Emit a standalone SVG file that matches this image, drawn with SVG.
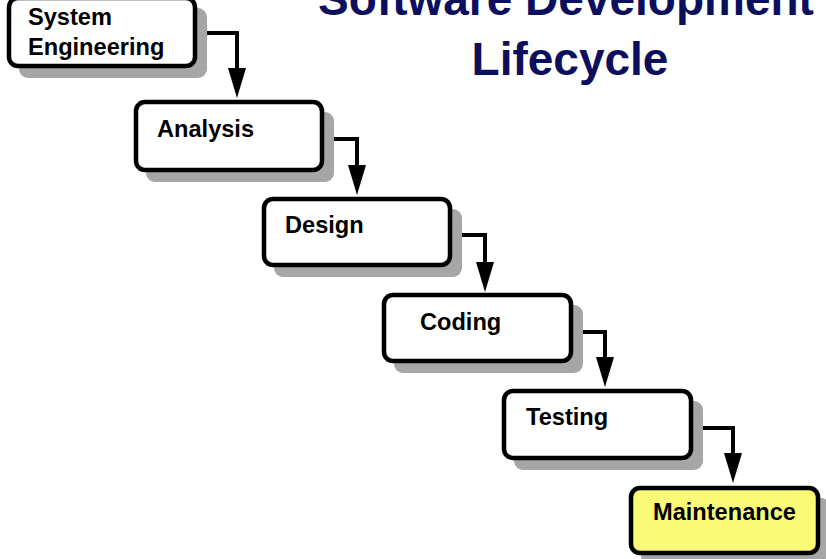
<svg xmlns="http://www.w3.org/2000/svg" width="826" height="559" viewBox="0 0 826 559">
<defs>
<style>
.shadow{fill:#a6a6a6;}
.box{fill:#ffffff;stroke:#000;stroke-width:4.5;}
.hl{fill:#fafa78;}
.lbl{font-family:"Liberation Sans",Arial,sans-serif;font-weight:bold;font-size:23.6px;fill:#000;}
.title{font-family:"Liberation Sans",Arial,sans-serif;font-weight:bold;font-size:46px;fill:#0c0f5e;text-anchor:middle;}
.conn{fill:none;stroke:#000;stroke-width:4;marker-end:url(#ah);}
</style>
<marker id="ah" markerUnits="userSpaceOnUse" markerWidth="32" markerHeight="20" refX="0" refY="9" orient="auto" viewBox="0 0 32 20">
<path d="M0,0 L30,9 L0,18 z" fill="#000"/>
</marker>
</defs>
<rect width="826" height="559" fill="#fff"/>
<g id="title">
<text class="title" x="566" y="15">Software Development</text>
<text class="title" x="570" y="75">Lifecycle</text>
</g>
<g id="connectors">
<path class="conn" d="M197,33 H237 V68"/>
<path class="conn" d="M324,139 H357 V165"/>
<path class="conn" d="M452,235 H485 V262"/>
<path class="conn" d="M573,332 H605 V357"/>
<path class="conn" d="M693,428 H733 V453"/>
</g>
<g id="system-engineering">
<rect class="shadow" x="19" y="8" width="188" height="70" rx="9"/>
<rect class="box" x="9" y="-2" width="186" height="68" rx="9"/>
<text class="lbl" x="28" y="25">System</text>
<text class="lbl" x="28" y="55">Engineering</text>
</g>
<g id="analysis">
<rect class="shadow" x="146" y="112" width="188" height="70" rx="9"/>
<rect class="box" x="136" y="102" width="186" height="68" rx="9"/>
<text class="lbl" x="157" y="137">Analysis</text>
</g>
<g id="design">
<rect class="shadow" x="274" y="209" width="188" height="68" rx="9"/>
<rect class="box" x="264" y="199" width="186" height="66" rx="9"/>
<text class="lbl" x="285" y="233">Design</text>
</g>
<g id="coding">
<rect class="shadow" x="394" y="305" width="189" height="68" rx="9"/>
<rect class="box" x="384" y="295" width="187" height="66" rx="9"/>
<text class="lbl" x="420" y="330">Coding</text>
</g>
<g id="testing">
<rect class="shadow" x="514" y="401" width="189" height="69" rx="9"/>
<rect class="box" x="504" y="391" width="187" height="67" rx="9"/>
<text class="lbl" x="526" y="425">Testing</text>
</g>
<g id="maintenance">
<rect class="shadow" x="641" y="498" width="189" height="67" rx="9"/>
<rect class="box hl" x="631" y="488" width="187" height="65" rx="9"/>
<text class="lbl" x="653" y="520">Maintenance</text>
</g>
</svg>
